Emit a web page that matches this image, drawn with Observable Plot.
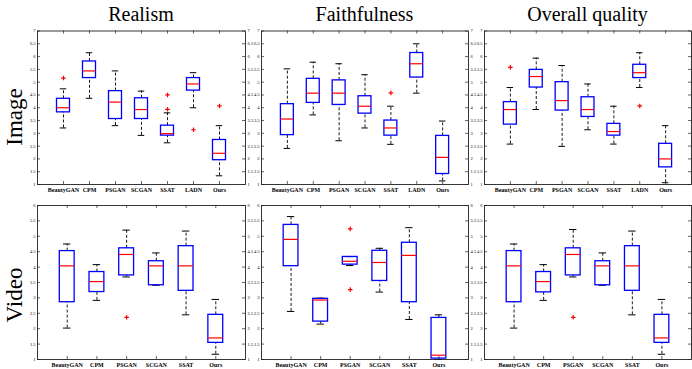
<!DOCTYPE html>
<html><head><meta charset="utf-8">
<script src="https://cdn.jsdelivr.net/npm/d3@7"></script>
<script src="https://cdn.jsdelivr.net/npm/@observablehq/plot@0.6"></script>
<style>
body{margin:0;background:#fff;}
#wrap{position:relative;width:692px;height:369px;overflow:hidden;background:#fff;}
#wrap svg{position:absolute;overflow:visible;}
</style></head><body><div id="wrap"></div>
<script>
const columnTitles = ["Realism", "Faithfulness", "Overall quality"];
const rowTitles = ["Image", "Video"];
const methodsImage = ["BeautyGAN", "CPM", "PSGAN", "SCGAN", "SSAT", "LADN", "Ours"];
const methodsVideo = ["BeautyGAN", "CPM", "PSGAN", "SCGAN", "SSAT", "Ours"];
const yTicksImage = [1, 1.5, 2, 2.5, 3, 3.5, 4, 4.5, 5, 5.5, 6, 6.5, 7];
const yTicksVideo = [1, 1.5, 2, 2.5, 3, 3.5, 4, 4.5, 5, 5.5, 6];

// box statistics per method: [lower whisker, Q1, median, Q3, upper whisker]
const realismImage = [
  [3.21, 3.82, 4.00, 4.35, 4.74],
  [4.37, 5.16, 5.44, 5.81, 6.15],
  [3.30, 3.56, 4.22, 4.65, 5.44],
  [2.92, 3.56, 3.93, 4.37, 4.65],
  [2.63, 2.91, 2.99, 3.30, 3.80],
  [4.00, 4.67, 4.93, 5.16, 5.37],
  [1.34, 1.95, 2.22, 2.74, 3.30]
];
const realismImageOutliers = [["BeautyGAN", 5.16], ["SSAT", 4.50], ["SSAT", 3.94], ["LADN", 3.14], ["Ours", 4.07]];

const faithImage = [
  [2.41, 2.93, 3.56, 4.14, 5.52],
  [3.72, 4.19, 4.57, 5.13, 5.78],
  [2.71, 4.11, 4.57, 5.07, 5.72],
  [3.21, 3.77, 4.06, 4.45, 5.29],
  [2.57, 2.91, 3.21, 3.50, 4.06],
  [4.57, 5.18, 5.72, 6.14, 6.50],
  [1.14, 1.41, 2.06, 2.90, 3.48]
];
const faithImageOutliers = [["SSAT", 4.58]];

const overallImage = [
  [2.58, 3.34, 3.93, 4.22, 4.79],
  [3.93, 4.79, 5.22, 5.48, 5.94],
  [2.49, 3.89, 4.28, 5.00, 5.65],
  [3.14, 3.64, 3.93, 4.41, 4.93],
  [2.58, 2.91, 3.07, 3.37, 4.06],
  [4.79, 5.16, 5.37, 5.68, 6.15],
  [1.07, 1.67, 2.00, 2.59, 3.30]
];
const overallImageOutliers = [["BeautyGAN", 5.58], ["LADN", 4.07]];

const realismVideo = [
  [2.02, 2.86, 4.04, 4.52, 4.75],
  [2.92, 3.19, 3.53, 3.84, 4.08],
  [3.68, 3.73, 4.41, 4.61, 5.20],
  [3.41, 3.41, 4.04, 4.19, 4.46],
  [2.45, 3.23, 4.04, 4.68, 5.17],
  [1.17, 1.54, 1.70, 2.45, 2.95]
];
const realismVideoOutliers = [["PSGAN", 2.37]];

const faithVideo = [
  [2.56, 4.03, 4.90, 5.37, 5.64],
  [2.15, 2.23, 2.93, 2.97, 2.99],
  [4.05, 4.08, 4.19, 4.33, 4.34],
  [3.19, 3.55, 4.15, 4.53, 4.61],
  [2.30, 2.86, 4.38, 4.79, 5.28],
  [1.00, 1.03, 1.14, 2.35, 2.45]
];
const faithVideoOutliers = [["PSGAN", 5.24], ["PSGAN", 3.27]];

const overallVideo = [
  [2.02, 2.86, 4.04, 4.52, 4.75],
  [2.92, 3.18, 3.53, 3.84, 4.08],
  [3.68, 3.73, 4.41, 4.61, 5.22],
  [3.41, 3.41, 4.04, 4.19, 4.46],
  [2.45, 3.23, 4.04, 4.68, 5.17],
  [1.17, 1.54, 1.70, 2.45, 2.95]
];
const overallVideoOutliers = [["PSGAN", 2.37]];

const wrap = document.getElementById("wrap");
const FONT = "Liberation Serif, Times New Roman, serif";

function panel(stats, outliers, methods, yTicks, geo) {
  const n = methods.length;
  const yMin = yTicks[0], yMax = yTicks[yTicks.length - 1];
  const rows = methods.map((m, i) => ({
    i: i + 1, m, lo: stats[i][0], q1: stats[i][1], med: stats[i][2], q3: stats[i][3], hi: stats[i][4]
  }));
  const outs = outliers.map(([m, v]) => ({ i: methods.indexOf(m) + 1, v }));
  const idx = methods.map((m, i) => i + 1);
  const pw = geo.width - geo.ml - geo.mr;
  const ph = geo.height - geo.mt - geo.mb;
  const tx = 3 / (pw / (n + 1));            // 3px in x units
  const ty = 3 / (ph / (yMax - yMin));      // 3px in y units
  const hb = 0.25, hc = 0.125;
  const marks = [
    Plot.ruleX(rows, { x: "i", y1: "q3", y2: "hi", stroke: "black", strokeWidth: 0.9, strokeDasharray: "3,2" }),
    Plot.ruleX(rows, { x: "i", y1: "lo", y2: "q1", stroke: "black", strokeWidth: 0.9, strokeDasharray: "3,2" }),
    Plot.ruleY(rows, { y: "hi", x1: d => d.i - hc, x2: d => d.i + hc, stroke: "black", strokeWidth: 1 }),
    Plot.ruleY(rows, { y: "lo", x1: d => d.i - hc, x2: d => d.i + hc, stroke: "black", strokeWidth: 1 }),
    Plot.rect(rows, { x1: d => d.i - hb, x2: d => d.i + hb, y1: "q1", y2: "q3", fill: "none", stroke: "#0000ff", strokeWidth: 1.3 }),
    Plot.ruleY(rows, { y: "med", x1: d => d.i - hb, x2: d => d.i + hb, stroke: "#ff0000", strokeWidth: 1.2 }),
    Plot.dot(outs, { x: "i", y: "v", symbol: "plus", r: 1.6, stroke: "#ff0000", strokeWidth: 1.2 }),
    Plot.frame({ stroke: "#222", strokeWidth: 0.9 }),
    // inward tick marks
    Plot.ruleY(yTicks, { y: d => d, x1: 0, x2: tx, stroke: "#222", strokeWidth: 0.7 }),
    Plot.ruleY(yTicks, { y: d => d, x1: n + 1 - tx, x2: n + 1, stroke: "#222", strokeWidth: 0.7 }),
    Plot.ruleX(idx, { x: d => d, y1: yMin, y2: yMin + ty, stroke: "#222", strokeWidth: 0.7 }),
    Plot.ruleX(idx, { x: d => d, y1: yMax - ty, y2: yMax, stroke: "#222", strokeWidth: 0.7 }),
    // tick labels
    Plot.axisY(yTicks, { anchor: "left", tickSize: 0, tickPadding: 2, label: null, fontSize: 4.5, tickFormat: d => String(d) }),
    Plot.axisX(idx, { anchor: "bottom", tickSize: 0, tickPadding: 3, label: null, fontSize: 6, fontWeight: "bold", tickFormat: i => methods[i - 1] })
  ];
  if (geo.rightLabels) {
    marks.push(Plot.axisY(yTicks, { anchor: "right", tickSize: 0, tickPadding: 2, label: null, fontSize: 4.5, tickFormat: d => String(d) }));
  }
  const svg = Plot.plot({
    width: geo.width, height: geo.height,
    marginLeft: geo.ml, marginRight: geo.mr, marginTop: geo.mt, marginBottom: geo.mb,
    style: { background: "transparent", fontFamily: FONT, overflow: "visible" },
    x: { type: "linear", domain: [0, n + 1] },
    y: { type: "linear", domain: [yMin, yMax] },
    marks
  });
  svg.style.left = geo.left + "px";
  svg.style.top = geo.top + "px";
  svg.style.maxWidth = "none";
  wrap.appendChild(svg);
}

// panel geometry (frame x: 37-245, 261-468, 484-691)
const colGeo = [
  { left: 0, width: 260, ml: 37, mr: 15, rightLabels: true },
  { left: 230, width: 253, ml: 31, mr: 15, rightLabels: true },
  { left: 453, width: 239, ml: 31, mr: 1, rightLabels: false }
];
const topRow = { top: 20, height: 180, mt: 10.5, mb: 16 };
const botRow = { top: 195, height: 174, mt: 10, mb: 10 };

panel(realismImage, realismImageOutliers, methodsImage, yTicksImage, { ...colGeo[0], ...topRow });
panel(faithImage, faithImageOutliers, methodsImage, yTicksImage, { ...colGeo[1], ...topRow });
panel(overallImage, overallImageOutliers, methodsImage, yTicksImage, { ...colGeo[2], ...topRow });
panel(realismVideo, realismVideoOutliers, methodsVideo, yTicksVideo, { ...colGeo[0], ...botRow });
panel(faithVideo, faithVideoOutliers, methodsVideo, yTicksVideo, { ...colGeo[1], ...botRow });
panel(overallVideo, overallVideoOutliers, methodsVideo, yTicksVideo, { ...colGeo[2], ...botRow });

// titles and row labels
const ov = d3.select(wrap).append("svg")
  .attr("width", 692).attr("height", 369)
  .style("left", "0px").style("top", "0px").style("pointer-events", "none");
const colCenters = colGeo.map(g => g.left + g.ml + (g.width - g.ml - g.mr) / 2);
ov.selectAll("text.col").data(columnTitles).join("text")
  .attr("class", "col")
  .attr("x", (d, i) => colCenters[i]).attr("y", 21)
  .attr("text-anchor", "middle")
  .style("font-family", FONT).style("font-size", "20px").attr("fill", "black")
  .text(d => d);
const rowCenters = [117, 295];
ov.selectAll("text.row").data(rowTitles).join("text")
  .attr("class", "row")
  .attr("transform", (d, i) => `translate(22,${rowCenters[i]}) rotate(-90)`)
  .attr("text-anchor", "middle")
  .style("font-family", FONT).style("font-size", "23px").attr("fill", "black")
  .text(d => d);
</script>
</body></html>
